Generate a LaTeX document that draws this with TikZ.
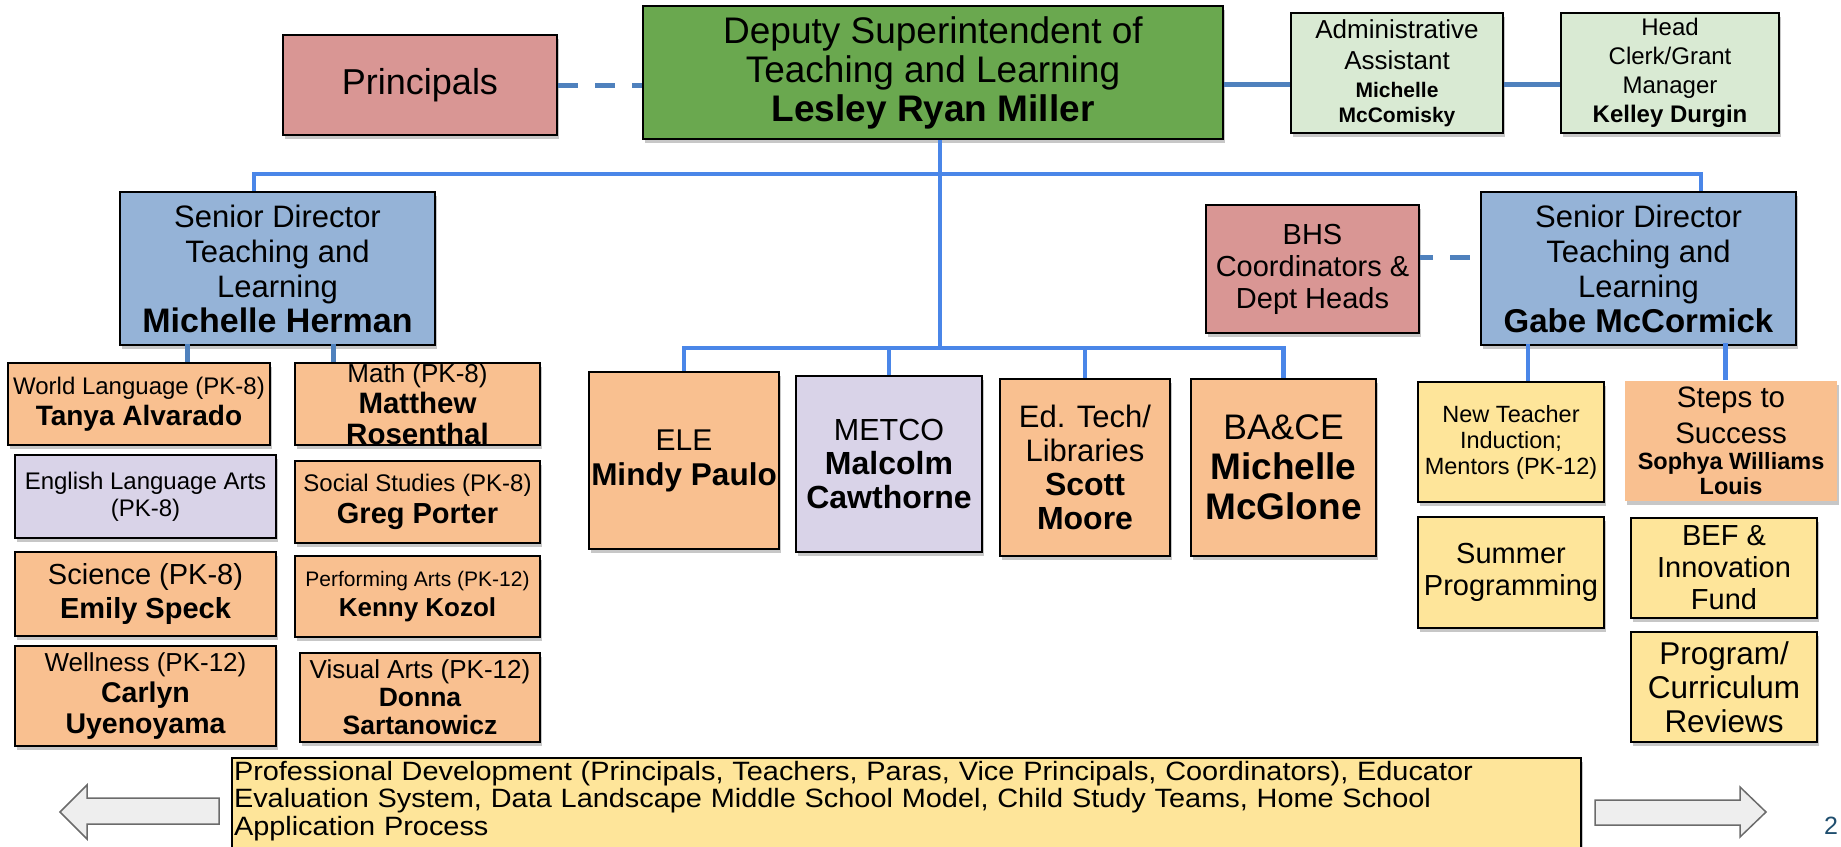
\documentclass[tikz,border=0pt]{standalone}
\usepackage{fontspec}
\setmainfont{Liberation Sans}
\newfontfamily\stripfont[FakeStretch=1.09]{Liberation Sans}
\usetikzlibrary{shadows}

\definecolor{depgreen}{HTML}{6AA84F}
\definecolor{pinkbox}{HTML}{D99694}
\definecolor{sdblue}{HTML}{95B3D7}
\definecolor{admgreen}{HTML}{D9EAD3}
\definecolor{orangebox}{HTML}{F9C090}
\definecolor{lavbox}{HTML}{D9D3E8}
\definecolor{yellowbox}{HTML}{FEE59A}
\definecolor{busblue}{HTML}{4A86E8}
\definecolor{linkblue}{HTML}{4F81BD}
\definecolor{arrowgray}{HTML}{EEEEEE}
\definecolor{pagenum}{HTML}{1F4E6E}

\newcommand{\setfs}[2]{\fontsize{#1}{#2}\selectfont}
\newcommand{\bfs}[2]{\fontsize{#1}{#2}\selectfont\bfseries}

\begin{document}
\begin{tikzpicture}[x=1pt,y=-1pt,
  softshadow/.style={drop shadow={shadow xshift=1.5pt,shadow yshift=-4pt,fill=black,opacity=0.22}},
  box/.style={draw=black,line width=2pt,inner sep=0pt,align=center,softshadow},
  wh/.style 2 args={minimum width=#1pt,minimum height=#2pt},
  fs/.style 2 args={font=\setfs{#1}{#2}},
  bus/.style={draw=busblue,line width=4.5pt},
  link/.style={draw=linkblue,line width=5pt},
  dashlink/.style={link,dash pattern=on 20pt off 17pt},
  bigarrow/.style={fill=arrowgray,draw=black!58,line width=1.5pt,line join=miter}]
\useasboundingbox (0,0) rectangle (1841,846);

% top row
\node[box,fill=pinkbox,wh={274}{100},fs={36}{40}] (prin) at (420,85) {Principals};
\node[box,fill=depgreen,wh={580}{133},fs={37}{39}] (dep) at (933,72.5) {Deputy Superintendent of\\Teaching and Learning\\\bfseries Lesley Ryan Miller};
\node[box,fill=admgreen,wh={212}{120},fs={26}{25}] (admin) at (1397,73) {Administrative\\[6pt]Assistant\\[3pt]\bfs{21}{25}Michelle\\\bfs{21}{25}McComisky};
\node[box,fill=admgreen,wh={218}{120},fs={24}{29}] (head) at (1670,73) {Head\\Clerk/Grant\\Manager\\\bfseries Kelley Durgin};

% senior directors
\node[box,fill=sdblue,wh={315}{153},fs={31}{35}] (mh) at (277.5,268.5) {Senior Director\\Teaching and\\Learning\\\bfs{34}{35}Michelle Herman};
\node[box,fill=pinkbox,wh={213}{128},fs={29}{32}] (bhs) at (1312.5,269) {BHS\\Coordinators \&\\Dept Heads};
\node[box,fill=sdblue,wh={315}{153},fs={31}{35}] (gabe) at (1638.5,268.5) {Senior Director\\Teaching and\\Learning\\\bfs{33}{35}Gabe McCormick};

% left columns
\node[box,fill=orangebox,wh={262}{82},fs={24}{31}] (wl) at (139,404) {World Language (PK-8)\\\bfs{28}{31}Tanya Alvarado};
\node[box,fill=orangebox,wh={245}{82},fs={26}{31}] (math) at (417.5,404) {Math (PK-8)\\\bfs{29.5}{31}Matthew\\\bfs{29.5}{31}Rosenthal};
\node[box,fill=lavbox,wh={261}{83},fs={24}{27}] (ela) at (145.5,496.5) {English Language Arts\\(PK-8)};
\node[box,fill=orangebox,wh={245}{82},fs={24}{32}] (ss) at (417.5,502) {Social Studies (PK-8)\\\bfs{29}{32}Greg Porter};
\node[box,fill=orangebox,wh={261}{84},fs={29}{34}] (sci) at (145.5,594) {Science (PK-8)\\\bfseries Emily Speck};
\node[box,fill=orangebox,wh={245}{81},fs={21}{30}] (pa) at (417.5,596.5) {Performing Arts (PK-12)\\\bfs{26}{30}Kenny Kozol};
\node[box,fill=orangebox,wh={261}{100},fs={26}{31}] (well) at (145.5,696) {Wellness (PK-12)\\\bfs{28.5}{31}Carlyn\\\bfs{28.5}{31}Uyenoyama};
\node[box,fill=orangebox,wh={240}{89},fs={26}{28}] (va) at (420,697.5) {Visual Arts (PK-12)\\\bfs{26.5}{28}Donna\\\bfs{26.5}{28}Sartanowicz};

% middle row
\node[box,fill=orangebox,wh={190}{177},fs={30}{35}] (ele) at (684,460.5) {ELE\\\bfs{31.5}{35}Mindy Paulo};
\node[box,fill=lavbox,wh={186}{176},fs={30.5}{34}] (metco) at (889,464) {METCO\\\bfs{32}{34}Malcolm\\\bfs{32}{34}Cawthorne};
\node[box,fill=orangebox,wh={170}{177},fs={31}{34}] (edtech) at (1085,467.5) {Ed. Tech/\\Libraries\\\bfs{32}{34}Scott\\\bfs{32}{34}Moore};
\node[box,fill=orangebox,wh={185}{177},fs={35.5}{40}] (bace) at (1283.5,467.5) {BA\&CE\\\bfs{37}{40}Michelle\\\bfs{37}{40}McGlone};

% right columns
\node[box,fill=yellowbox,wh={186}{120},fs={23.5}{26}] (ntm) at (1511,442) {New Teacher\\Induction;\\Mentors (PK-12)};
\node[box,draw=none,fill=orangebox,wh={212}{120},fs={29.5}{25}] (sts) at (1731,441) {Steps to\\[8pt]Success\\[1pt]\bfs{23.5}{25}Sophya Williams\\\bfs{23.5}{25}Louis};
\node[box,fill=yellowbox,wh={186}{111},fs={29}{32}] (summer) at (1511,572.5) {Summer\\Programming};
\node[box,fill=yellowbox,wh={186}{100},fs={29}{32}] (bef) at (1724,568) {BEF \&\\Innovation\\Fund};
\node[box,fill=yellowbox,wh={186}{110},fs={31.5}{34}] (prc) at (1724,687) {Program/\\Curriculum\\Reviews};

% bottom strip
\node[box,fill=yellowbox,anchor=north west,inner sep=2pt,text width=1345pt,align=left,text height=20pt,text depth=69pt,font=\stripfont\setfs{26.5}{27.5}] (pd) at (231,757) {Professional Development (Principals, Teachers, Paras, Vice Principals, Coordinators), Educator\\Evaluation System, Data Landscape Middle School Model, Child Study Teams, Home School\\Application Process};
\draw[bigarrow] (60,812) -- (87,785) -- (87,798) -- (219,798) -- (219,824) -- (87,824) -- (87,839) -- cycle;
\draw[bigarrow] (1595,800) -- (1740,800) -- (1740,787) -- (1766,812) -- (1740,837) -- (1740,825) -- (1595,825) -- cycle;
\node[text=pagenum,inner sep=0pt,fs={25}{25}] (pg) at (1831,826) {2};

% connectors
\coordinate (topbus) at (940,174);
\coordinate (lowbus) at (940,348);
\path ([yshift=-11pt]admin.west) coordinate (adml);
\path ([yshift=12pt]bhs.east) coordinate (bhsr);
\draw[dashlink] (prin.east) -- (prin.east -| dep.west);
\draw[link] (adml -| dep.east) -- (adml);
\draw[link] (adml -| admin.east) -- (adml -| head.west);
\draw[dashlink,dash phase=7pt] (bhsr) -- (bhsr -| gabe.west);
\draw[bus] ([xshift=-23.5pt]mh.north) |- (topbus) -| ([xshift=62.5pt]gabe.north);
\draw[bus] (dep.south -| topbus) -- (lowbus);
\draw[bus] (ele.north) |- (lowbus) -| (bace.north);
\draw[bus] (metco.north) -- (metco.north |- lowbus);
\draw[bus] (edtech.north) -- (edtech.north |- lowbus);
\draw[link] ([xshift=48pt]wl.north) -- ++(0,-18);
\draw[link] ([xshift=-84.5pt]math.north) -- ++(0,-18);
\draw[bus] ([xshift=17pt]ntm.north) -- ++(0,-37);
\draw[bus] ([xshift=-5.5pt]sts.north) -- ++(0,-37);
\end{tikzpicture}
\end{document}
